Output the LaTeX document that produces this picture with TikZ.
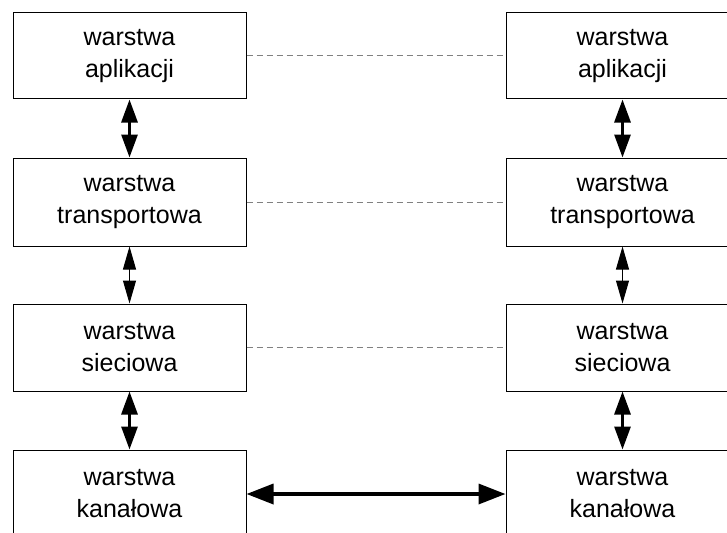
\documentclass[tikz,border=0pt]{standalone}
\usepackage{fontspec}
\setmainfont{Liberation Sans}
\usetikzlibrary{arrows.meta}
\begin{document}
\begin{tikzpicture}[x=1pt,y=-1pt,
  layerbox/.style={draw=black, line width=1pt, minimum width=233pt, align=center, inner sep=0pt,
    font=\fontsize{25}{32}\selectfont},
  thickarrow/.style={line width=3pt, {Triangle[length=23pt,width=16pt]}-{Triangle[length=23pt,width=16pt]}},
  thinarrow/.style={line width=1pt, {Triangle[length=23pt,width=13pt]}-{Triangle[length=23pt,width=13pt]}},
  linkarrow/.style={line width=3.5pt, {Triangle[length=27pt,width=20pt]}-{Triangle[length=27pt,width=20pt]}},
  peerline/.style={draw=black!50, line width=1pt, dash pattern=on 6pt off 4pt}]
\useasboundingbox (0,0) rectangle (727,532);
\clip (0,0) rectangle (727,532);
\node[layerbox, minimum height=86pt] (la) at (129.5,56) {warstwa\\aplikacji};
\node[layerbox, minimum height=88pt] (lt) at (129.5,202) {warstwa\\transportowa};
\node[layerbox, minimum height=87pt] (ls) at (129.5,347.5) {warstwa\\sieciowa};
\node[layerbox, minimum height=88pt] (lk) at (129.5,494) {warstwa\\kanałowa};
\node[layerbox, minimum height=86pt] (ra) at (622.5,56) {warstwa\\aplikacji};
\node[layerbox, minimum height=88pt] (rt) at (622.5,202) {warstwa\\transportowa};
\node[layerbox, minimum height=87pt] (rs) at (622.5,347.5) {warstwa\\sieciowa};
\node[layerbox, minimum height=88pt] (rk) at (622.5,494) {warstwa\\kanałowa};
\draw[thickarrow] (la.south) -- (lt.north);
\draw[thinarrow] (lt.south) -- (ls.north);
\draw[thickarrow] (ls.south) -- (lk.north);
\draw[thickarrow] (ra.south) -- (rt.north);
\draw[thinarrow] (rt.south) -- (rs.north);
\draw[thickarrow] (rs.south) -- (rk.north);
\draw[peerline] (la.east) -- (ra.west);
\draw[peerline] (lt.east) -- (rt.west);
\draw[peerline] (ls.east) -- (rs.west);
\draw[linkarrow] (lk.east) -- (rk.west);
\end{tikzpicture}
\end{document}
